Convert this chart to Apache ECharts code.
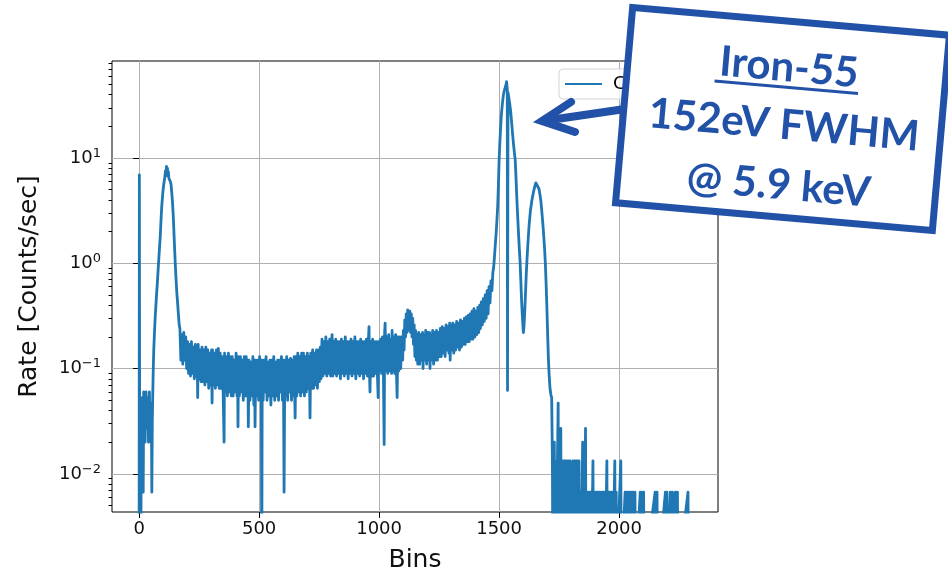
<!DOCTYPE html>
<html><head><meta charset="utf-8">
<script src="https://cdn.jsdelivr.net/npm/echarts@6/dist/echarts.min.js"></script>
<style>html,body{margin:0;padding:0;background:#fff}#c{width:948px;height:574px}</style>
</head><body><div id="c"></div>
<script>
// zero-count bins: drawn below the axis floor, as in the original log plot
const Z = 0.001;

// [bin, rate (counts/sec)]
const lowEnd = [[0,Z],[1,6.9],[3,Z],[5,0.02],[7,Z],[9,0.04],[11,0.0067],[13,0.053],[15,0.027],[17,0.0067],[19,0.06],[21,0.033],[23,0.047],[25,0.02],[27,0.04],[29,0.06],[31,0.027],[33,0.047],[35,0.033],[37,0.053],[39,0.02],[41,0.04],[43,0.06],[45,0.027],[47,0.047],[49,0.02],[51,0.04],[53,0.0067],[55,0.033],[57,0.06]];

const peak1 = [[59,0.1],[61,0.15],[64,0.22],[67,0.31],[70,0.4],[73,0.52],[76,0.65],[79,0.85],[82,1.1],[85,1.4],[88,1.8],[91,2.5],[94,3.4],[97,4.2],[100,5.0],[103,5.7],[106,6.3],[108,6.9],[110,7.6],[112,6.8],[114,8.3],[116,7.1],[118,8.0],[120,6.8],[122,7.4],[124,6.4],[127,6.6],[130,6.0],[133,5.6],[136,4.7],[139,3.8],[142,2.9],[145,2.0],[148,1.35],[151,0.95],[154,0.7],[157,0.53],[160,0.43],[164,0.32],[167,0.26]];

const shelf = [
[170,0.24],[174,0.12],[178,0.21],[182,0.11],[186,0.22],[190,0.12],[194,0.2],[198,0.1],
[202,0.18],[206,0.09],[210,0.17],[214,0.085],[218,0.18],[222,0.09],[226,0.16],[230,0.08],[234,0.17],[238,0.085],[242,0.16],[244,0.053],[246,0.17],[250,0.08],[254,0.15],[258,0.075],
[262,0.16],[266,0.075],[270,0.15],[274,0.07],[278,0.16],[282,0.075],[286,0.15],[290,0.065],[294,0.14],[298,0.07],[302,0.15],[304,0.047],[306,0.15],[310,0.07],[314,0.14],[318,0.065],[322,0.15],[326,0.07],[330,0.155],[334,0.065],[338,0.14],
[342,0.065],[346,0.13],[350,0.06],[354,0.02],[356,0.14],[360,0.06],[364,0.13],[368,0.055],[372,0.14],[376,0.06],[380,0.13],[384,0.055],[388,0.13],[392,0.055],[396,0.12],[400,0.06],[404,0.14],[408,0.055],[410,0.13],[412,0.028],[414,0.13],[418,0.055],[422,0.13],[426,0.06],[430,0.12],[434,0.05],[438,0.13],[442,0.055],[446,0.13],
[450,0.055],[453,0.12],[455,0.028],[458,0.12],[462,0.05],[466,0.115],[470,0.055],[474,0.13],[478,0.045],[481,0.12],[483,0.028],[486,0.12],[490,0.055],[494,0.12],[498,0.05],[502,0.13],[506,0.055],[509,0.12],[511,Z],[513,0.12],[517,0.05],[521,0.12],[525,0.06],[529,0.13],[533,0.05],[537,0.115],[541,0.055],[545,0.12],[549,0.045],[553,0.12],[557,0.055],[561,0.13],[565,0.05],[569,0.115],[573,0.055],[577,0.12],[581,0.05],[585,0.12],[589,0.06],[593,0.13],[597,0.05],[601,0.12],[604,0.0067],[607,0.12],[611,0.055],[615,0.13],[619,0.05],[623,0.12],[627,0.06],[631,0.125],[635,0.05],[638,0.12],
[642,0.055],[646,0.13],[650,0.034],[653,0.13],[657,0.055],[661,0.14],[665,0.06],[669,0.13],[673,0.055],[677,0.14],[681,0.06],[685,0.14],[689,0.055],[693,0.13],[697,0.06],[701,0.14],[705,0.065],[709,0.13],[712,0.034],[715,0.14],[719,0.065],[723,0.15],[727,0.065],[731,0.14],[735,0.07],[739,0.15],[743,0.065],[747,0.15],[751,0.075],[755,0.16],[758,0.08],
[762,0.19],[766,0.085],[770,0.18],[774,0.09],[778,0.2],[782,0.085],[786,0.18],[790,0.09],[794,0.19],[798,0.085],[802,0.18],[804,0.21],[807,0.085],[811,0.18],[815,0.09],[819,0.19],[823,0.085],[827,0.18],[831,0.09],[835,0.18],[839,0.08],[843,0.19],[847,0.09],[851,0.18],[855,0.085],[859,0.2],[863,0.09],[867,0.18],[871,0.08],[875,0.18],[879,0.09],[883,0.19],[887,0.085],[891,0.18],[895,0.09],[899,0.2],[903,0.08],[907,0.18],[911,0.09],[915,0.18],[919,0.085],[923,0.19],[927,0.09],[931,0.18],[935,0.08],[939,0.18],[943,0.09],[947,0.19],[951,0.085],[955,0.18],[958,0.25],[960,0.09],[962,0.06],[965,0.18],[969,0.085],[973,0.19],[977,0.085],[981,0.18],[985,0.09],[989,0.18],[993,0.085],[996,0.053],[998,0.18],
[1002,0.095],[1006,0.19],[1010,0.09],[1014,0.2],[1018,0.085],[1021,0.019],[1023,0.22],[1025,0.27],[1028,0.095],[1032,0.2],[1036,0.09],[1040,0.21],[1044,0.095],[1048,0.19],[1052,0.09],[1054,0.23],[1057,0.095],[1061,0.2],[1065,0.09],[1069,0.21],[1072,0.095],[1075,0.053],[1078,0.2],[1082,0.095],[1086,0.2],[1090,0.1],[1094,0.2],[1098,0.12],
[1101,0.23],[1104,0.15],[1107,0.29],[1110,0.2],[1113,0.33],[1116,0.22],[1119,0.36],[1122,0.37],[1125,0.23],[1128,0.35],[1131,0.22],[1134,0.33],[1137,0.2],[1140,0.3],[1143,0.17],[1146,0.26],[1149,0.13],[1152,0.23],[1155,0.12],[1158,0.21],
[1161,0.11],[1165,0.22],[1169,0.11],[1173,0.21],[1177,0.12],[1181,0.22],[1183,0.1],[1186,0.21],[1190,0.12],[1194,0.23],[1198,0.11],[1202,0.22],[1206,0.12],[1210,0.22],[1212,0.1],[1215,0.21],[1219,0.12],[1223,0.23],[1227,0.11],[1231,0.22],[1235,0.12],[1239,0.23],[1243,0.12],[1247,0.22],
[1251,0.13],[1255,0.24],[1259,0.13],[1263,0.25],[1267,0.14],[1271,0.24],[1275,0.13],[1279,0.26],[1283,0.15],[1287,0.25],[1291,0.14],[1294,0.27],[1296,0.12],[1299,0.26],[1303,0.15],[1307,0.27],[1311,0.14],[1315,0.26],[1319,0.15],[1323,0.28],[1327,0.16],[1331,0.27],[1335,0.15],[1339,0.29],[1343,0.16],[1347,0.28],
[1351,0.17],[1355,0.3],[1359,0.17],[1363,0.31],[1367,0.18],[1371,0.32],[1375,0.18],[1379,0.33],[1383,0.19],[1387,0.35],[1391,0.19],[1395,0.37],[1399,0.2],[1403,0.35],[1407,0.21],[1411,0.38],[1415,0.22],[1419,0.4],
[1422,0.24],[1426,0.43],[1430,0.26],[1434,0.46],[1438,0.28],[1442,0.5],[1446,0.3],[1450,0.55],[1454,0.33],[1458,0.6],[1462,0.42],[1466,0.68],[1470,0.55],[1474,0.82],[1477,0.9]];

const mainPeaks = [[1480,1.1],[1484,1.5],[1488,2.0],[1491,2.6],[1494,3.5],[1497,5.5],[1500,9.6],[1503,14],[1506,19],[1509,25],[1512,30],[1515,35],[1518,40],[1522,44],[1526,47],[1529,50],[1531,53],[1533,55],[1534,45],[1535,0.062],[1537,42],[1540,38],[1544,33],[1548,28],[1552,22],[1556,17],[1560,13.5],[1564,11],[1567,9.6],[1570,6.8],[1573,4.6],[1576,3.2],[1580,2.1],[1584,1.4],[1587,1.07],[1590,0.72],[1593,0.48],[1596,0.34],[1599,0.26],[1601,0.22],[1604,0.26],[1607,0.36],[1610,0.52],[1613,0.78],[1616,1.07],[1620,1.55],[1625,2.3],[1630,3.1],[1636,3.9],[1642,4.6],[1648,5.3],[1653,5.8],[1657,5.9],[1661,5.7],[1666,5.1],[1670,4.5],[1674,3.9],[1678,3.1],[1682,2.4],[1686,1.8],[1690,1.3],[1693,0.95],[1696,0.62],[1699,0.38],[1702,0.22],[1705,0.13],[1708,0.09],[1712,0.065],[1716,0.056],[1719,0.053]];

const tail = [[1722,0.0133],[1724,Z],[1726,0.0133],[1728,Z],[1730,0.02],[1732,Z],[1734,0.0133],[1736,Z],[1738,0.0133],[1740,Z],[1743,0.0133],[1746,0.047],[1748,Z],[1750,0.0133],[1752,Z],[1755,0.0133],[1757,0.027],[1759,Z],[1761,0.0133],[1763,Z],[1766,0.0133],[1768,Z],[1771,0.0133],[1773,Z],[1776,0.0133],[1778,Z],[1781,0.0133],[1783,Z],[1786,0.0133],[1788,Z],[1791,0.0133],[1793,Z],[1796,0.0133],[1798,Z],[1802,0.0067],[1804,Z],[1808,0.0133],[1810,Z],[1813,0.0133],[1815,Z],[1818,0.0133],[1820,Z],[1823,0.0133],[1825,Z],[1828,0.0133],[1830,Z],[1833,0.0133],[1835,Z],[1840,0.0067],[1842,Z],[1848,0.02],[1850,Z],[1852,0.0133],[1855,Z],[1860,0.027],[1862,Z],[1866,0.0067],[1868,Z],[1871,0.0067],[1873,Z],[1877,0.0067],[1879,Z],[1883,0.0067],[1885,Z],[1891,0.0133],[1893,Z],[1902,0.0067],[1904,Z],[1908,0.0067],[1910,Z],[1914,0.0067],[1916,Z],[1920,0.0067],[1922,Z],[1926,0.0067],[1928,Z],[1933,0.0067],[1935,Z],[1940,0.0067],[1942,Z],[1949,0.0133],[1951,Z],[1958,0.0067],[1960,Z],[1965,0.0067],[1967,Z],[1972,0.0067],[1974,Z],[1982,0.0133],[1984,Z],[1988,0.0067],[1990,Z],[2007,0.0133],[2009,Z],[2025,0.0067],[2027,Z],[2031,0.0067],[2033,Z],[2037,0.0067],[2039,Z],[2044,0.0067],[2046,Z],[2051,0.0067],[2053,Z],[2058,0.0067],[2060,Z],[2066,0.0067],[2068,Z],[2088,0.0067],[2090,Z],[2095,0.0067],[2097,Z],[2102,0.0067],[2104,Z],[2150,0.0067],[2152,Z],[2158,0.0067],[2160,Z],[2193,0.0067],[2195,Z],[2199,0.0067],[2201,Z],[2213,0.0067],[2215,Z],[2222,0.0067],[2224,Z],[2234,0.0067],[2236,Z],[2243,0.0067],[2245,Z],[2287,0.0067],[2289,Z],[2299,Z]];

const xTicks = [0, 500, 1000, 1500, 2000];
const yTicks = [0.01, 0.1, 1, 10];
const yMinorTicks = [0.005,0.006,0.007,0.008,0.009,0.02,0.03,0.04,0.05,0.06,0.07,0.08,0.09,0.2,0.3,0.4,0.5,0.6,0.7,0.8,0.9,2,3,4,5,6,7,8,9,20,30,40,50,60,70,80];

const BLUE = '#1f77b4';
const BOX = '#2251a8';
const Y_MIN = 0.00434, Y_MAX = 83.4;

const chart = echarts.init(document.getElementById('c'), null, {renderer: 'canvas'});
const axisFont = {fontFamily: 'DejaVu Sans', fontSize: 18, color: '#111'};
const boxText = {fill: BOX, font: 'bold 42px Lato', textAlign: 'center', textVerticalAlign: 'middle', align: 'center', verticalAlign: 'middle'};

chart.setOption({
  animation: false,
  backgroundColor: '#fff',
  grid: {left: 112, right: 230, top: 61, bottom: 62, show: true, borderColor: '#000', borderWidth: 1,
         backgroundColor: 'transparent', containLabel: false, outerBoundsMode: 'none'},
  legend: {
    left: 559, top: 69, icon: 'rect', itemWidth: 37, itemHeight: 2,
    padding: [6, 8, 6, 6], borderColor: '#d5d5d5', borderWidth: 1, borderRadius: 4,
    backgroundColor: 'rgba(255,255,255,0.8)',
    textStyle: {fontFamily: 'DejaVu Sans', fontSize: 18, color: '#000', padding: [0, 0, 0, 6]},
    data: ['Counts']
  },
  xAxis: {
    type: 'value', min: -113, max: 2412,
    name: 'Bins', nameLocation: 'middle', nameGap: 36,
    nameTextStyle: {fontFamily: 'DejaVu Sans', fontSize: 25, color: '#111'},
    axisLine: {show: false},
    axisTick: {show: true, customValues: xTicks, length: 6, lineStyle: {color: '#000'}},
    axisLabel: Object.assign({customValues: xTicks, margin: 8, formatter: function (v) { return String(v); }}, axisFont),
    splitLine: {show: true, lineStyle: {color: '#b0b0b0', width: 1}}
  },
  yAxis: [{
    type: 'log', min: Y_MIN, max: Y_MAX, position: 'left',
    name: 'Rate [Counts/sec]', nameLocation: 'middle', nameGap: 70,
    nameTextStyle: {fontFamily: 'DejaVu Sans', fontSize: 25, color: '#111'},
    axisLine: {show: false},
    axisTick: {show: true, customValues: yTicks, length: 6, lineStyle: {color: '#000'}},
    axisLabel: {
      customValues: yTicks, margin: 11,
      formatter: function (v) {
        const e = Math.round(Math.log10(v));
        return '{b|10}{s|' + (e < 0 ? '\u2212' + (-e) : e) + '}';
      },
      rich: {
        b: {fontFamily: 'DejaVu Sans', fontSize: 18, lineHeight: 22, color: '#111'},
        s: {fontFamily: 'DejaVu Sans', fontSize: 13, lineHeight: 14, verticalAlign: 'top', color: '#111'}
      }
    },
    splitLine: {show: true, lineStyle: {color: '#b0b0b0', width: 1}}
  }, {
    type: 'log', min: Y_MIN, max: Y_MAX, position: 'left', offset: 0,
    axisLine: {show: false}, axisLabel: {show: false}, splitLine: {show: false},
    axisTick: {show: true, customValues: yMinorTicks, length: 3.5, lineStyle: {color: '#000'}}
  }],
  series: [{
    type: 'line', name: 'Counts', yAxisIndex: 0,
    data: [].concat(lowEnd, peak1, shelf, mainPeaks, tail),
    showSymbol: false, symbol: 'none', clip: true,
    lineStyle: {color: BLUE, width: 2.8, join: 'round'},
    itemStyle: {color: BLUE}
  }],
  graphic: [
    {type: 'polyline', z: 100, shape: {points: [[625, 109], [543, 121]]},
     style: {stroke: BOX, lineWidth: 8, lineCap: 'round', fill: 'none'}},
    {type: 'polyline', z: 100, shape: {points: [[571, 102], [542, 121], [575, 132]]},
     style: {stroke: BOX, lineWidth: 8, lineCap: 'round', lineJoin: 'miter', fill: 'none'}},
    {type: 'group', x: 782.5, y: 119, rotation: -5 * Math.PI / 180, z: 101, children: [
      {type: 'rect', z: 101, shape: {x: -159, y: -98, width: 318, height: 196},
       style: {fill: '#fff', stroke: BOX, lineWidth: 7}},
      {type: 'text', z: 102, x: 2, y: -51.6, style: Object.assign({text: 'Iron-55'}, boxText)},
      {type: 'line', z: 102, shape: {x1: -71, y1: -32, x2: 73, y2: -32}, style: {stroke: BOX, lineWidth: 3}},
      {type: 'text', z: 102, x: 2, y: 6.2, style: Object.assign({text: '152eV FWHM'}, boxText)},
      {type: 'text', z: 102, x: 2, y: 66.4, style: Object.assign({text: '@ 5.9 keV'}, boxText)}
    ]}
  ]
});
</script>
</body></html>
